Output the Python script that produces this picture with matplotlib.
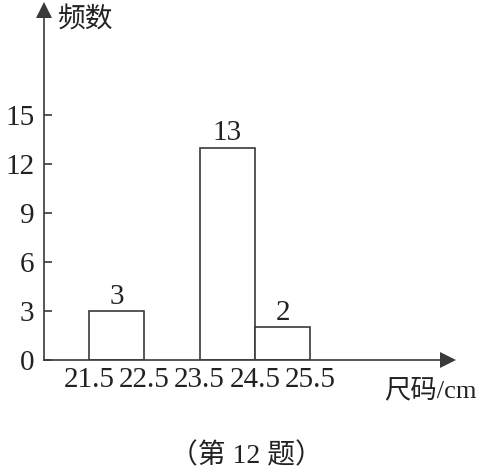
import matplotlib
matplotlib.use("Agg")
import matplotlib.pyplot as plt

# data
bin_edges = [21.5, 22.5, 23.5, 24.5, 25.5]
counts = [3, 0, 13, 2]
y_ticks = [0, 3, 6, 9, 12, 15]
x_tick_labels = ["21.5", "22.5", "23.5", "24.5", "25.5"]

FAM = ['Liberation Serif', 'Noto Sans CJK SC', 'DejaVu Sans']
plt.rcParams['font.family'] = FAM

W, H = 490, 476
fig = plt.figure(figsize=(W / 100, H / 100), dpi=100)
# axes in pixel coords: x from 44 to 448, y from 360 (bottom) to 10 (top)
left, right, top, bottom = 44, 448, 10, 360
ax = fig.add_axes([left / W, 1 - bottom / H, (right - left) / W, (bottom - top) / H])

px_per_x = 55.3
x0 = 21.5 - (89 - left) / px_per_x
x1 = 21.5 + (right - 89) / px_per_x
px_per_y = 16.33
ax.set_xlim(x0, x1)
ax.set_ylim(0, (bottom - top) / px_per_y)

col = '#3a3a3a'
txt = '#222222'
for i, c in enumerate(counts):
    if c <= 0:
        continue
    w = bin_edges[i + 1] - bin_edges[i]
    ax.bar(bin_edges[i], c, width=w, align='edge', facecolor='white',
           edgecolor=col, linewidth=1.2, zorder=2)
    ax.annotate(str(c), (bin_edges[i] + w / 2, c), xytext=(0, 1),
                textcoords='offset points', ha='center', va='bottom',
                fontsize=21, color=txt)

for s in ['top', 'right']:
    ax.spines[s].set_visible(False)
for s in ['left', 'bottom']:
    ax.spines[s].set_color(col)
    ax.spines[s].set_linewidth(1.2)

ax.set_yticks(y_ticks)
ax.set_yticklabels([str(v) for v in y_ticks], fontsize=21, color=txt)
ax.tick_params(axis='y', direction='in', length=6, width=1.2, color=col, pad=7)
ax.set_xticks(bin_edges)
ax.set_xticklabels(x_tick_labels, fontsize=21, color=txt)
ax.tick_params(axis='x', length=0, pad=5)

# arrow heads
ax.plot([1], [0], marker='>', markersize=11, color=col, transform=ax.transAxes,
        clip_on=False, markeredgewidth=0)
ax.plot([0], [1], marker='^', markersize=11, color=col, transform=ax.transAxes,
        clip_on=False, markeredgewidth=0)

fig.text(58 / W, 1 - 20 / H, "频数", fontsize=20, ha='left', va='center',
         color=txt, family=FAM)
fig.text(384 / W, 1 - 390 / H, "尺码/cm", fontsize=19, ha='left', va='center',
         color=txt, family=FAM)
fig.text(246 / W, 1 - 456 / H, "（第 12 题）", fontsize=20, ha='center', va='center',
         color=txt, family=FAM)

fig.savefig("out.png", dpi=100, facecolor='white')
